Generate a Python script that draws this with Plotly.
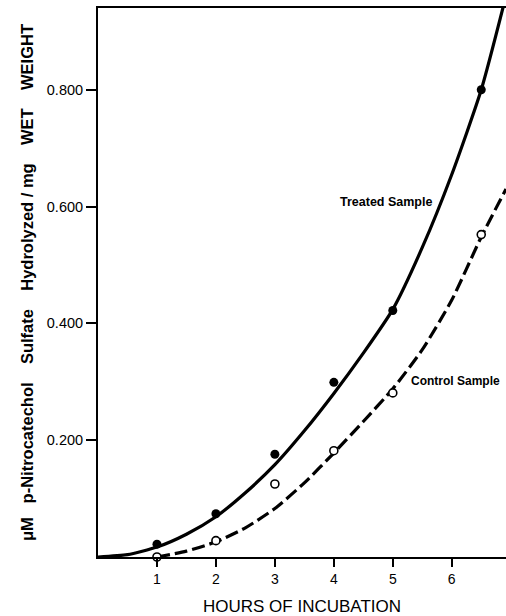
import plotly.graph_objects as go

# Measured data points
hours = [1, 2, 3, 4, 5, 6.5]
treated = [0.022, 0.074, 0.176, 0.299, 0.422, 0.800]
control = [0.000, 0.028, 0.125, 0.182, 0.281, 0.552]

# Fitted curves as drawn
treated_curve_x = [0, 0.5, 1, 1.5, 2, 2.5, 3, 3.5, 4, 4.5, 5, 5.5, 6, 6.5, 6.88]
treated_curve_y = [0, 0.004, 0.017, 0.039, 0.069, 0.110, 0.158, 0.216, 0.280, 0.349,
                   0.424, 0.530, 0.655, 0.800, 0.945]
control_curve_x = [1, 1.5, 2, 2.5, 3, 3.5, 4, 4.5, 5, 5.5, 6, 6.5, 6.92]
control_curve_y = [0, 0.010, 0.026, 0.050, 0.083, 0.127, 0.178, 0.232, 0.288, 0.355,
                   0.440, 0.548, 0.630]

x_ticks = [1, 2, 3, 4, 5, 6]
x_tick_text = ["1", "2", "3", "4", "5", "6"]
y_ticks = [0.2, 0.4, 0.6, 0.8]
y_tick_text = ["0.200", "0.400", "0.600", "0.800"]

FONT = "Liberation Sans, Arial, sans-serif"

fig = go.Figure()
fig.add_trace(go.Scatter(x=treated_curve_x, y=treated_curve_y, mode="lines",
                         line=dict(color="black", width=3.2, shape="spline", smoothing=0.6),
                         showlegend=False, hoverinfo="skip"))
fig.add_trace(go.Scatter(x=control_curve_x, y=control_curve_y, mode="lines",
                         line=dict(color="black", width=3.2, shape="spline", smoothing=0.6,
                                   dash="13px,5px"),
                         showlegend=False, hoverinfo="skip"))
fig.add_trace(go.Scatter(x=hours, y=treated, mode="markers", name="Treated Sample",
                         marker=dict(color="black", size=9, symbol="circle"),
                         showlegend=False, cliponaxis=False))
fig.add_trace(go.Scatter(x=hours, y=control, mode="markers", name="Control Sample",
                         marker=dict(color="white", size=8, symbol="circle",
                                     line=dict(color="black", width=1.6)),
                         showlegend=False, cliponaxis=False))

fig.add_annotation(x=4.89, y=0.607, text="<b>Treated Sample</b>", showarrow=False,
                   font=dict(family=FONT, size=12.5, color="black"))
fig.add_annotation(x=6.07, y=0.301, text="<b>Control Sample</b>", showarrow=False,
                   font=dict(family=FONT, size=12, color="black"))

y_title = "<b>μM   p-Nitrocatechol    Sulfate    Hydrolyzed / mg    WET    WEIGHT</b>"

fig.update_layout(
    width=506, height=616,
    margin=dict(l=98, r=0, t=8, b=59),
    paper_bgcolor="white", plot_bgcolor="white",
    font=dict(family=FONT, color="black"),
    xaxis=dict(range=[0, 6.92], showgrid=False, zeroline=False, automargin=False,
               showline=True, linecolor="black", linewidth=2, mirror=True,
               ticks="outside", ticklen=8, tickwidth=1.5, tickcolor="black",
               tickvals=x_ticks, ticktext=x_tick_text,
               tickfont=dict(family=FONT, size=14, color="black"),
               title=dict(text="HOURS OF INCUBATION", standoff=16,
                          font=dict(family=FONT, size=17, color="black"))),
    yaxis=dict(range=[0, 0.94], showgrid=False, zeroline=False, automargin=False,
               showline=True, linecolor="black", linewidth=2,
               ticks="outside", ticklen=10, tickwidth=1.5, tickcolor="black",
               tickvals=y_ticks, ticktext=y_tick_text,
               tickfont=dict(family=FONT, size=14.5, color="black"),
               title=dict(text=y_title, standoff=9,
                          font=dict(family=FONT, size=16.5, color="black"))),
)

fig.write_html(
    "out.html",
    config={"displayModeBar": False},
    post_script="document.body.style.margin='0';document.body.style.overflow='hidden';",
)
